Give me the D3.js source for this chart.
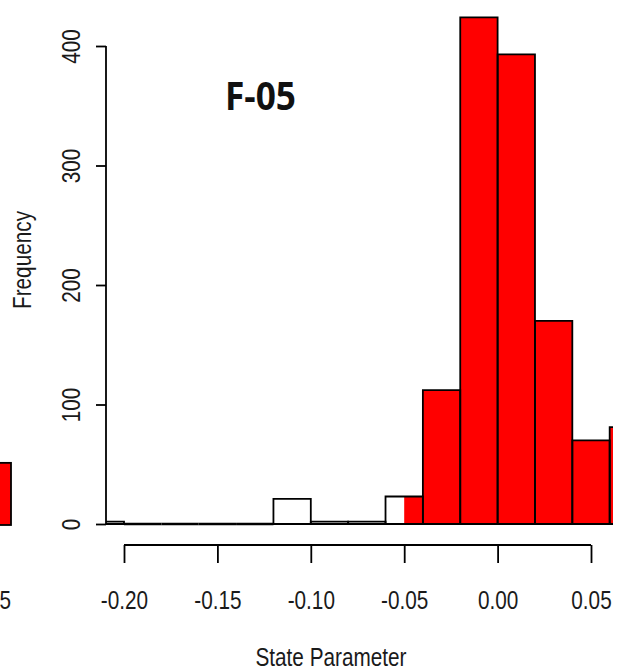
<!DOCTYPE html>
<html>
<head>
<meta charset="utf-8">
<script src="https://cdn.jsdelivr.net/npm/d3@7"></script>
<style>
  html, body { margin: 0; padding: 0; background: #fff; }
  svg { display: block; }
</style>
</head>
<body>
<svg id="chart" width="620" height="670"></svg>
<script>
// ---- data ----
const binStarts = [-0.22, -0.20, -0.18, -0.16, -0.14, -0.12, -0.10, -0.08, -0.06, -0.04, -0.02, 0.00, 0.02, 0.04, 0.06];
const counts    = [2, 0, 0, 0, 0, 21, 2, 2, 23, 112, 424, 393, 170, 70, 81];
const binWidth = 0.02;
const redFrom = -0.05;              // values >= this are shaded red
const xTicks = [-0.20, -0.15, -0.10, -0.05, 0.00, 0.05];
const yTicks = [0, 100, 200, 300, 400];
const title = "F-05";
const xTitle = "State Parameter";
const yTitle = "Frequency";
// neighbouring (cropped) panel fragment
const prevPanelBar = [{x0: 0.03, x1: 0.05, count: 52}];
const prevPanelTick = ["0.05"];

const svg = d3.select("#chart");
const x = d3.scaleLinear().domain([-0.20, 0.05]).range([124, 591]);
const y = d3.scaleLinear().domain([0, 400]).range([524, 46]);
const plotLeft = 106, plotRight = 613;

svg.append("clipPath").attr("id", "plotclip")
  .append("rect").attr("x", plotLeft).attr("y", 0).attr("width", plotRight - plotLeft).attr("height", 540);

const bins = binStarts.map((s, i) => ({x0: s, x1: s + binWidth, count: counts[i]}));
const g = svg.append("g").attr("clip-path", "url(#plotclip)");

// white base
g.selectAll("rect.base").data(bins).join("rect")
  .attr("class", "base")
  .attr("x", d => x(d.x0)).attr("width", d => x(d.x1) - x(d.x0))
  .attr("y", d => y(d.count)).attr("height", d => y(0) - y(d.count))
  .attr("fill", "#fff");
// red portion
g.selectAll("rect.red").data(bins.filter(d => d.x1 > redFrom)).join("rect")
  .attr("class", "red")
  .attr("x", d => x(Math.max(d.x0, redFrom)))
  .attr("width", d => x(d.x1) - x(Math.max(d.x0, redFrom)))
  .attr("y", d => y(d.count)).attr("height", d => y(0) - y(d.count))
  .attr("fill", "#ff0000");
// outlines (path so that zero-height bins still show as a line)
g.selectAll("path.outline").data(bins).join("path")
  .attr("class", "outline")
  .attr("d", d => `M${x(d.x0)},${y(0)}V${y(d.count)}H${x(d.x1)}V${y(0)}Z`)
  .attr("fill", "none").attr("stroke", "#000")
  .attr("stroke-width", d => d.count === 0 ? 2.6 : 1.8)
  .attr("stroke-linejoin", "miter");

const font = "'Liberation Sans', Arial, Helvetica, sans-serif";
const fs = 25;
const sx = 0.83;   // narrow (condensed) lettering as in the reference

// y axis
const yAxis = svg.append("g").attr("transform", `translate(${plotLeft},0)`)
  .call(d3.axisLeft(y).tickValues(yTicks).tickSize(10).tickFormat(d3.format("d")));
yAxis.selectAll(".domain").attr("d", `M0,${y(0)}V${y(400)}`).attr("stroke-width", 1.8);
yAxis.selectAll(".tick line").attr("stroke-width", 1.8);
yAxis.selectAll(".tick text")
  .attr("x", null).attr("dy", null)
  .attr("transform", `translate(-26,0) rotate(-90) scale(${sx},1)`)
  .attr("text-anchor", "middle")
  .attr("font-family", font).attr("font-size", fs).attr("fill", "#1a1a1a");

// x axis
const xAxis = svg.append("g").attr("transform", "translate(0,545)")
  .call(d3.axisBottom(x).tickValues(xTicks).tickSize(18).tickFormat(d3.format(".2f")));
xAxis.select(".domain").attr("d", `M${x(-0.20)},0H${x(0.05)}`).attr("stroke-width", 1.8);
xAxis.selectAll(".tick line").attr("stroke-width", 1.8);
xAxis.selectAll(".tick text")
  .attr("y", null).attr("dy", null)
  .attr("transform", `translate(0,64) scale(${sx},1)`)
  .attr("font-family", font).attr("font-size", fs).attr("fill", "#1a1a1a")
  .text(d => d3.format(".2f")(d).replace("−", "-"));

// axis titles
svg.append("text").attr("transform", `translate(331,666) scale(${sx},1)`).attr("text-anchor", "middle")
  .attr("font-family", font).attr("font-size", fs).attr("fill", "#1a1a1a").text(xTitle);
svg.append("text").attr("transform", `translate(31,260) rotate(-90) scale(${sx},1)`).attr("text-anchor", "middle")
  .attr("font-family", font).attr("font-size", fs).attr("fill", "#1a1a1a").text(yTitle);

// panel title
svg.append("text").attr("x", 225).attr("y", 110)
  .attr("font-family", "'Open Sans', 'Noto Sans', sans-serif").attr("font-weight", "bold")
  .attr("font-size", 40).attr("textLength", 71).attr("lengthAdjust", "spacingAndGlyphs")
  .attr("fill", "#111").text(title);

// fragment of the neighbouring panel on the left edge
const xPrev = d3.scaleLinear().domain([0.03, 0.05]).range([-26, 11]);
svg.selectAll("rect.prev").data(prevPanelBar).join("rect")
  .attr("class", "prev")
  .attr("x", d => xPrev(d.x0)).attr("width", d => xPrev(d.x1) - xPrev(d.x0))
  .attr("y", d => y(d.count) + 1).attr("height", d => y(0) - y(d.count))
  .attr("fill", "#ff0000").attr("stroke", "#000").attr("stroke-width", 1.8);
svg.selectAll("text.prev").data(prevPanelTick).join("text")
  .attr("class", "prev")
  .attr("transform", `translate(11,609) scale(${sx},1)`).attr("text-anchor", "end")
  .attr("font-family", font).attr("font-size", fs).attr("fill", "#1a1a1a").text(d => d);
</script>
</body>
</html>
